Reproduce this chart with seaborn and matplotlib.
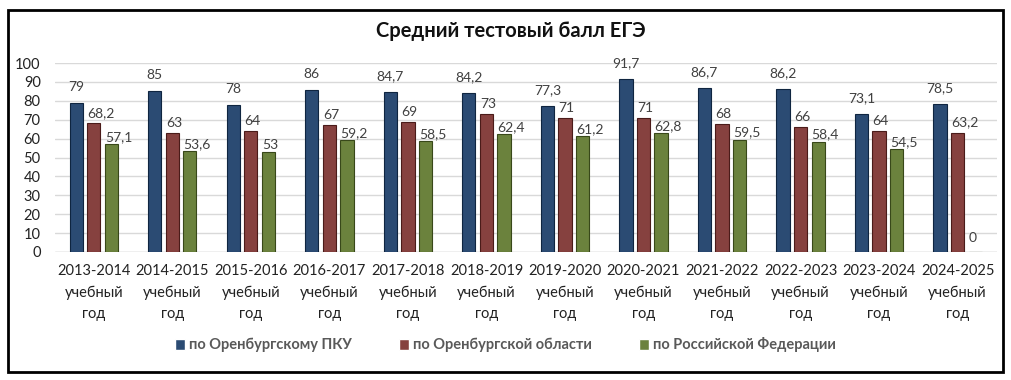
import pandas as pd
import matplotlib.pyplot as plt
import seaborn as sns
from matplotlib.patches import Rectangle

# ===== Data =====
years = ["2013-2014", "2014-2015", "2015-2016", "2016-2017", "2017-2018", "2018-2019",
         "2019-2020", "2020-2021", "2021-2022", "2022-2023", "2023-2024", "2024-2025"]
series = ["по Оренбургскому ПКУ", "по Оренбургской области", "по Российской Федерации"]
pku = [79, 85, 78, 86, 84.7, 84.2, 77.3, 91.7, 86.7, 86.2, 73.1, 78.5]
oblast = [68.2, 63, 64, 67, 69, 73, 71, 71, 68, 66, 64, 63.2]
rf = [57.1, 53.6, 53, 59.2, 58.5, 62.4, 61.2, 62.8, 59.5, 58.4, 54.5, 0]

colors = ["#1f4a7f", "#923633", "#6f8d32"]
edges = ["#0f2540", "#4a1b19", "#384819"]

sns.set_theme(style="white")
plt.rcParams["font.family"] = ["Lato", "DejaVu Sans"]

cats = [f"{y}\nучебный\nгод" for y in years]
df = pd.DataFrame({
    "year": cats * 3,
    "series": [s for s in series for _ in years],
    "value": pku + oblast + rf,
})

fig = plt.figure(figsize=(10.11, 3.8), dpi=100)
ax = fig.add_axes([0.054, 0.337, 0.932, 0.497])

sns.barplot(data=df, x="year", y="value", hue="series", hue_order=series,
            palette=colors, width=0.67, gap=0.25, ax=ax, legend=True)

for cont, ec in zip(ax.containers, edges):
    for b in cont:
        b.set_edgecolor(ec)
        b.set_linewidth(0.8)

def fmt(v):
    return str(int(v)) if float(v).is_integer() else str(v).replace(".", ",")

# label placement: (offset px, alignment)
place = [(10, "center"), (4, "left"), (1, "left")]
for cont, (dy, ha), vals in zip(ax.containers, place, [pku, oblast, rf]):
    for b, v in zip(cont, vals):
        x = b.get_x() + b.get_width() / 2 if ha == "center" else b.get_x()
        if v == 0:
            dy = 8
        ax.annotate(fmt(v), (x, b.get_height()), xytext=(0, dy), textcoords="offset pixels",
                    ha=ha, va="bottom", fontsize=10, color="#404040")

ax.set_xlim(-0.5, 11.5)
ax.set_ylim(0, 100)
ax.set_yticks(range(0, 101, 10))
ax.yaxis.grid(True, color="#d9d9d9", linewidth=1)
ax.set_axisbelow(True)
for s in ax.spines.values():
    s.set_visible(False)
ax.axhline(0, color="#d0d0d0", linewidth=1, zorder=0)
ax.set_xlabel("")
ax.set_ylabel("")
ax.tick_params(axis="both", length=0, labelsize=10.5, colors="#222222")
ax.tick_params(axis="x", pad=9)
ax.tick_params(axis="y", pad=10)
for t in ax.get_xticklabels():
    t.set_linespacing(1.62)

ax.legend(loc="center", bbox_to_anchor=(0.5, 1 - 345 / 380), bbox_transform=fig.transFigure,
          ncol=3, frameon=False, handlelength=0.7, handleheight=0.7, handletextpad=0.3,
          columnspacing=3.2, prop={"weight": "bold", "size": 10.5}, labelcolor="#595959")

fig.text(0.505, 1 - 31 / 380, "Средний тестовый балл ЕГЭ", ha="center", va="center",
         fontsize=14.5, fontweight="bold", color="#111111")

fig.patches.append(Rectangle((8 / 1011, 1 - 372 / 380), 995 / 1011, 362 / 380,
                             transform=fig.transFigure, fill=False, edgecolor="black",
                             linewidth=2))

fig.savefig("out.png", dpi=100)
